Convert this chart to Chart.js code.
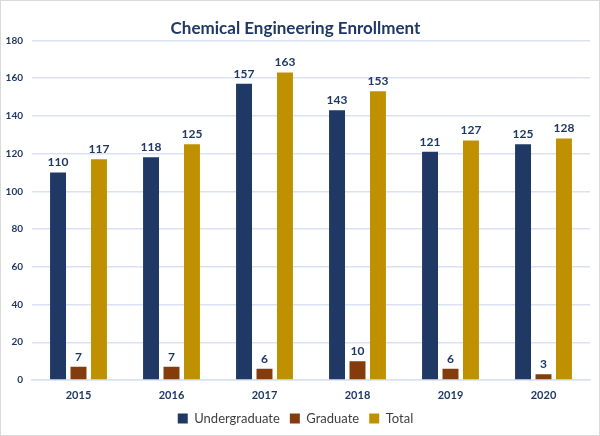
<!DOCTYPE html>
<html>
<head>
<meta charset="utf-8">
<script src="https://cdn.jsdelivr.net/npm/chart.js@4/dist/chart.umd.min.js"></script>
<style>
  html, body { margin: 0; padding: 0; background: #fff; }
  .wrap { width: 598px; height: 434px; border: 1px solid #d9d9d9; }
</style>
</head>
<body>
<div class="wrap"><canvas id="enroll-chart" width="598" height="434"></canvas></div>
<script>
const years = ["2015", "2016", "2017", "2018", "2019", "2020"]
const undergrad = [110, 118, 157, 143, 121, 125]
const graduate = [7, 7, 6, 10, 6, 3]
const total = [117, 125, 163, 153, 127, 128]
const yTicks = [0, 20, 40, 60, 80, 100, 120, 140, 160, 180]

const navy = "#1f3864"

// value labels above each bar
const barLabels = {
  id: "barLabels",
  afterDatasetsDraw(chart) {
    const ctx = chart.ctx
    ctx.save()
    ctx.font = "bold 12px Lato"
    ctx.fillStyle = navy
    ctx.textAlign = "center"
    ctx.textBaseline = "bottom"
    chart.data.datasets.forEach((ds, i) => {
      chart.getDatasetMeta(i).data.forEach((bar, j) => {
        ctx.fillText(ds.data[j], bar.x, bar.y - 4)
      })
    })
    ctx.restore()
  },
}

const enrollCanvas = document.getElementById("enroll-chart")

let enrollChart = new Chart(enrollCanvas, {
  type: "bar",
  data: {
    labels: years,
    datasets: [
      { label: "Undergraduate", data: undergrad, backgroundColor: "#203864" },
      { label: "Graduate", data: graduate, backgroundColor: "#843c0c" },
      { label: "Total", data: total, backgroundColor: "#bf9000" },
    ],
  },
  options: {
    responsive: false,
    animation: false,
    categoryPercentage: 0.66,
    barPercentage: 0.78,
    layout: { padding: { left: 0, right: 9, top: 6, bottom: 0 } },
    scales: {
      x: {
        grid: { display: false, drawTicks: false },
        border: { color: "#d9e1f2", width: 1.5 },
        ticks: { color: navy, font: { family: "Lato", weight: "bold", size: 11 }, padding: 9 },
        afterFit: (axis) => {
          axis.height = 22
        },
      },
      y: {
        min: 0,
        max: 180,
        afterBuildTicks: (axis) => {
          axis.ticks = yTicks.map((v) => ({ value: v }))
        },
        afterFit: (axis) => {
          axis.width = 31
        },
        grid: { color: "#d9e1f2", lineWidth: 1.5, drawTicks: false },
        border: { display: false },
        ticks: { color: navy, font: { family: "Lato", weight: "bold", size: 10 }, padding: 9 },
      },
    },
    plugins: {
      title: {
        display: true,
        text: "Chemical Engineering Enrollment",
        color: navy,
        font: { family: "Lato", weight: "bold", size: 17 },
        padding: { top: 11, bottom: 2 },
      },
      legend: {
        position: "bottom",
        labels: {
          boxWidth: 10,
          boxHeight: 10,
          color: "#404040",
          font: { family: "Lato", size: 13 },
          padding: 10,
        },
      },
      tooltip: { enabled: false },
    },
  },
  plugins: [barLabels],
})
</script>
</body>
</html>
